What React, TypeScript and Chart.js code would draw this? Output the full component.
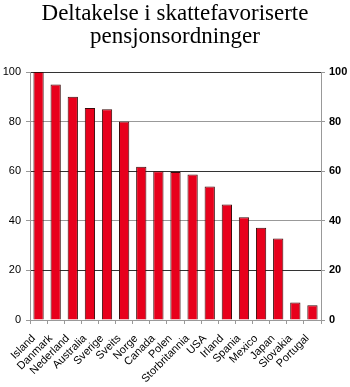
import React, { useEffect, useRef } from "react";
import { Chart, registerables } from "chart.js";

Chart.register(...registerables);

const titleLines = ["Deltakelse i skattefavoriserte", "pensjonsordninger"];
const countries = [
  "Island", "Danmark", "Nederland", "Australia", "Sverige", "Sveits", "Norge",
  "Canada", "Polen", "Storbritannia", "USA", "Irland", "Spania", "Mexico",
  "Japan", "Slovakia", "Portugal",
];
const participation = [100, 95, 90, 85.5, 85, 80, 61.8, 60, 59.7, 58.7, 53.8, 46.6, 41.4, 37.2, 32.9, 7.1, 5.9];
const yTicks = [0, 20, 40, 60, 80, 100];

export default function App() {
  const ref = useRef<HTMLCanvasElement | null>(null);
  useEffect(() => {
    if (!ref.current) return;
    const gridColor = (ctx: any) => {
      const v = ctx.tick ? ctx.tick.value : 0;
      if (v === 0) return "rgba(0,0,0,0)";
      return v === 80 || v === 40 ? "#999999" : "#333333";
    };
    const chart = new Chart(ref.current, {
      type: "bar",
      data: {
        labels: countries,
        datasets: [
          {
            data: participation,
            backgroundColor: "#E8001C",
            borderColor: "#3a0a0a",
            borderWidth: 1,
            barPercentage: 0.6,
            categoryPercentage: 1,
            yAxisID: "y",
          },
        ],
      },
      options: {
        animation: false,
        responsive: false,
        maintainAspectRatio: false,
        layout: { padding: { top: 0, left: 0, right: 0, bottom: 0 } },
        plugins: {
          legend: { display: false },
          tooltip: { enabled: false },
          title: {
            display: true,
            text: titleLines,
            color: "#000",
            font: { family: "Liberation Serif", size: 23, weight: "normal", lineHeight: 1.0 },
            padding: { top: 2, bottom: 24 },
          },
        },
        scales: {
          x: {
            grid: {
              offset: true,
              drawOnChartArea: false,
              drawTicks: true,
              tickLength: 4,
              color: "#999999",
            },
            border: { display: true, color: "#999999", width: 1 },
            ticks: {
              autoSkip: false,
              maxRotation: 45,
              minRotation: 45,
              padding: 8,
              labelOffset: -5,
              color: "#000",
              font: { family: "Liberation Sans", size: 11 },
            },
            afterFit: (s: any) => { s.height = 67; },
          },
          y: {
            position: "left",
            min: 0,
            max: 100,
            afterBuildTicks: (s: any) => { s.ticks = yTicks.map((v) => ({ value: v })); },
            grid: { color: gridColor, tickLength: 4, tickColor: "#999999" },
            border: { display: true, color: "#999999", width: 1 },
            ticks: {
              color: "#000",
              padding: 5,
              font: { family: "Liberation Sans", size: 11 },
            },
            afterFit: (s: any) => { s.width = 30; },
          },
          y2: {
            position: "right",
            min: 0,
            max: 100,
            afterBuildTicks: (s: any) => { s.ticks = yTicks.map((v) => ({ value: v })); },
            grid: { drawOnChartArea: false, tickLength: 4, color: "#999999" },
            border: { display: true, color: "#999999", width: 1 },
            ticks: {
              color: "#000",
              padding: 4,
              font: { family: "Liberation Sans", size: 11, weight: "bold" },
            },
            afterFit: (s: any) => { s.width = 29; },
          },
        },
      },
    });
    return () => chart.destroy();
  }, []);
  return (
    <div style={{ position: "absolute", left: 0, top: 0, width: 350, height: 387, background: "#fff" }}>
      <canvas ref={ref} width={350} height={387} style={{ width: 350, height: 387, display: "block" }} />
    </div>
  );
}
